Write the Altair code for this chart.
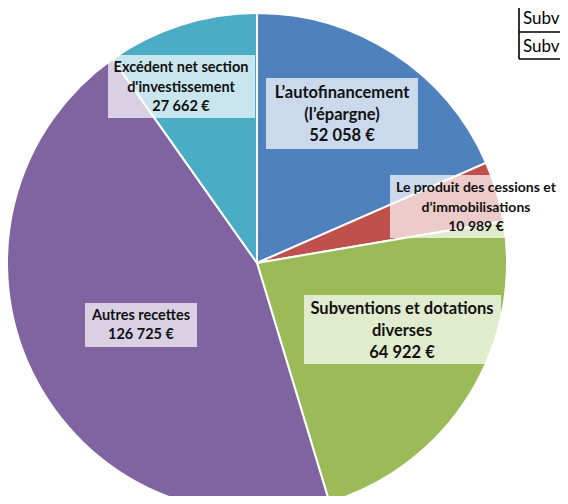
import altair as alt
import pandas as pd

# ---- data ----
categories = [
    "L’autofinancement\n(l’épargne)",
    "Le produit des cessions et\nd’immobilisations",
    "Subventions et dotations\ndiverses",
    "Autres recettes",
    "Excédent net section\nd'investissement",
]
values = [52058, 10989, 64922, 126725, 27662]
colors = ["#4F81BD", "#C0504D", "#9BBB59", "#8064A2", "#4BACC6"]
table_rows = ["Subventions", "Subventions"]


def fmt(v):
    return f"{v:,}".replace(",", " ") + " €"


# ---- layout (pixels in the plot area) ----
W, H = 552, 488
CX, CY, R = 249, 255, 250
FONT = "Lato"
# per label: box x0, x1, y0, y1, text centre x, first-line y, font size, line height
label_layout = [
    (258, 410, 70, 141, 334, 85, 16.5, 21.5),
    (382, 570, 167, 230, 468, 180, 14, 19.5),
    (296, 493, 287, 356, 394, 301, 16.5, 22),
    (77, 189, 295, 339, 133, 308, 14.5, 19),
    (100, 247, 47, 110, 173, 60, 14.5, 19.5),
]
table_lines = [  # x, x2, y, y2
    (511, 511, -8, 51),
    (511, 570, -5, -5),
    (511, 570, 24, 24),
    (511, 570, 51, 51),
]
table_text_pos = [(515, 11), (515, 39)]

pie_df = pd.DataFrame({"cat": categories, "value": values, "idx": list(range(len(values)))})

pie = alt.Chart(pie_df).mark_arc(radius=R, stroke="white", strokeWidth=2).encode(
    theta=alt.Theta("value:Q", stack=True),
    color=alt.Color("cat:N", scale=alt.Scale(domain=categories, range=colors), legend=None),
    order=alt.Order("idx:Q"),
    x=alt.value(CX),
    y=alt.value(CY),
)

box_df = pd.DataFrame(
    [{"x0": l[0], "x1": l[1], "y0": l[2], "y1": l[3]} for l in label_layout]
)
boxes = alt.Chart(box_df).mark_rect(fill="white", opacity=0.7).encode(
    x=alt.X("x0:Q", scale=None, axis=None),
    x2="x1:Q",
    y=alt.Y("y0:Q", scale=None, axis=None),
    y2="y1:Q",
)

text_layers = []
for cat, val, lay in zip(categories, values, label_layout):
    df = pd.DataFrame({"label": [cat + "\n" + fmt(val)], "tx": [lay[4]], "ty": [lay[5]]})
    t = alt.Chart(df).mark_text(
        font=FONT,
        fontWeight="bold",
        fontSize=lay[6],
        lineHeight=lay[7],
        lineBreak="\n",
        align="center",
        baseline="middle",
        color="#111111",
    ).encode(
        x=alt.X("tx:Q", scale=None, axis=None),
        y=alt.Y("ty:Q", scale=None, axis=None),
        text="label:N",
    )
    text_layers.append(t)

tl_df = pd.DataFrame([{"x": a, "x2": b, "y": c, "y2": d} for a, b, c, d in table_lines])
tlines = alt.Chart(tl_df).mark_rule(color="black", strokeWidth=1.6).encode(
    x=alt.X("x:Q", scale=None, axis=None),
    x2="x2:Q",
    y=alt.Y("y:Q", scale=None, axis=None),
    y2="y2:Q",
)
tt_df = pd.DataFrame(
    {"t": table_rows, "x": [p[0] for p in table_text_pos], "y": [p[1] for p in table_text_pos]}
)
ttext = alt.Chart(tt_df).mark_text(
    font=FONT, fontSize=17, align="left", baseline="middle", color="black"
).encode(
    x=alt.X("x:Q", scale=None, axis=None),
    y=alt.Y("y:Q", scale=None, axis=None),
    text="t:N",
)

chart = alt.layer(pie, boxes, *text_layers, tlines, ttext).properties(
    width=W, height=H, padding=0, autosize=alt.AutoSizeParams(type="none")
).configure_view(stroke=None)

chart.save("out.html", embed_options={"renderer": "svg", "actions": False})
